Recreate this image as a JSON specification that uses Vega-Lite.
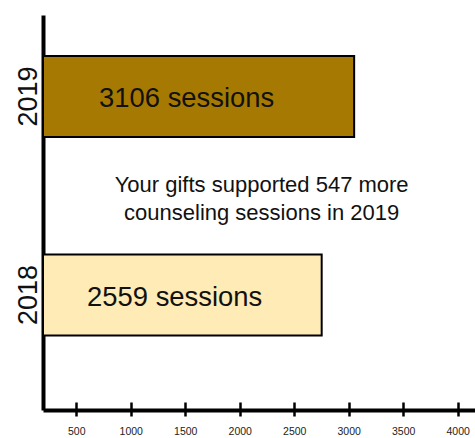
{
  "$schema": "https://vega.github.io/schema/vega-lite/v6.json",
  "width": 432,
  "height": 395,
  "autosize": {"type": "none"},
  "padding": {"left": 43, "top": 15, "right": 0, "bottom": 28},
  "background": "white",
  "config": {"view": {"stroke": null}, "font": "Liberation Sans"},
  "data": {"values": [
    {"year": "2019", "bar_length": 3050, "sessions": 3106, "label": "3106 sessions"},
    {"year": "2018", "bar_length": 2752, "sessions": 2559, "label": "2559 sessions"}
  ]},
  "encoding": {
    "y": {
      "field": "year", "type": "nominal", "sort": ["2019", "2018"], "title": null,
      "scale": {"paddingInner": 0.592, "paddingOuter": 0.291, "align": 0.355},
      "axis": {
        "domain": true, "domainColor": "#000", "domainWidth": 4,
        "ticks": false, "tickSize": 0,
        "labelAngle": -90, "labelAlign": "center", "labelBaseline": "alphabetic",
        "labelPadding": 7, "labelFontSize": 27, "labelColor": "#111", "labelFont": "Liberation Sans"
      }
    }
  },
  "layer": [
    {
      "mark": {"type": "bar", "stroke": "#000", "strokeWidth": 2},
      "encoding": {
        "x": {
          "field": "bar_length", "type": "quantitative", "title": null,
          "scale": {"domain": [194.5, 4159], "nice": false, "zero": false},
          "axis": {
            "orient": "bottom", "values": [500, 1000, 1500, 2000, 2500, 3000, 3500, 4000], "format": "d",
            "domain": true, "domainColor": "#000", "domainWidth": 4,
            "ticks": false, "tickSize": 0, "grid": false,
            "labelFontSize": 10.5, "labelColor": "#222", "labelPadding": 16, "labelFont": "Liberation Sans"
          }
        },
        "x2": {"datum": 194.5},
        "color": {
          "field": "year", "type": "nominal", "legend": null,
          "scale": {"domain": ["2019", "2018"], "range": ["#A67A02", "#FFEBB6"]}
        }
      }
    },
    {
      "transform": [{"filter": "datum.year === '2019'"}],
      "mark": {"type": "text", "fontSize": 27.4, "color": "#111", "align": "center", "baseline": "alphabetic", "dy": 10.2},
      "encoding": {
        "x": {
          "datum": 1513, "type": "quantitative", "title": null,
          "axis": {
            "orient": "bottom", "values": [500, 1000, 1500, 2000, 2500, 3000, 3500, 4000],
            "domain": false, "labels": false, "grid": false,
            "ticks": true, "tickSize": -14, "tickWidth": 2.5, "tickColor": "#000", "offset": 6
          }
        },
        "text": {"field": "label"}
      }
    },
    {
      "transform": [{"filter": "datum.year === '2018'"}],
      "mark": {"type": "text", "fontSize": 27.4, "color": "#111", "align": "center", "baseline": "alphabetic", "dy": 10.9},
      "encoding": {
        "x": {"datum": 1403, "type": "quantitative", "axis": null},
        "text": {"field": "label"}
      }
    },
    {
      "data": {"values": [{"note": "Your gifts supported 547 more\ncounseling sessions in 2019"}]},
      "mark": {"type": "text", "fontSize": 22, "color": "#111", "align": "center", "baseline": "alphabetic", "lineBreak": "\n", "lineHeight": 28.3, "dy": 95.2},
      "encoding": {
        "x": {"datum": 2201, "type": "quantitative", "axis": null},
        "y": {"datum": "2019", "type": "nominal"},
        "text": {"field": "note"}
      }
    }
  ],
  "resolve": {"axis": {"x": "independent"}}
}
